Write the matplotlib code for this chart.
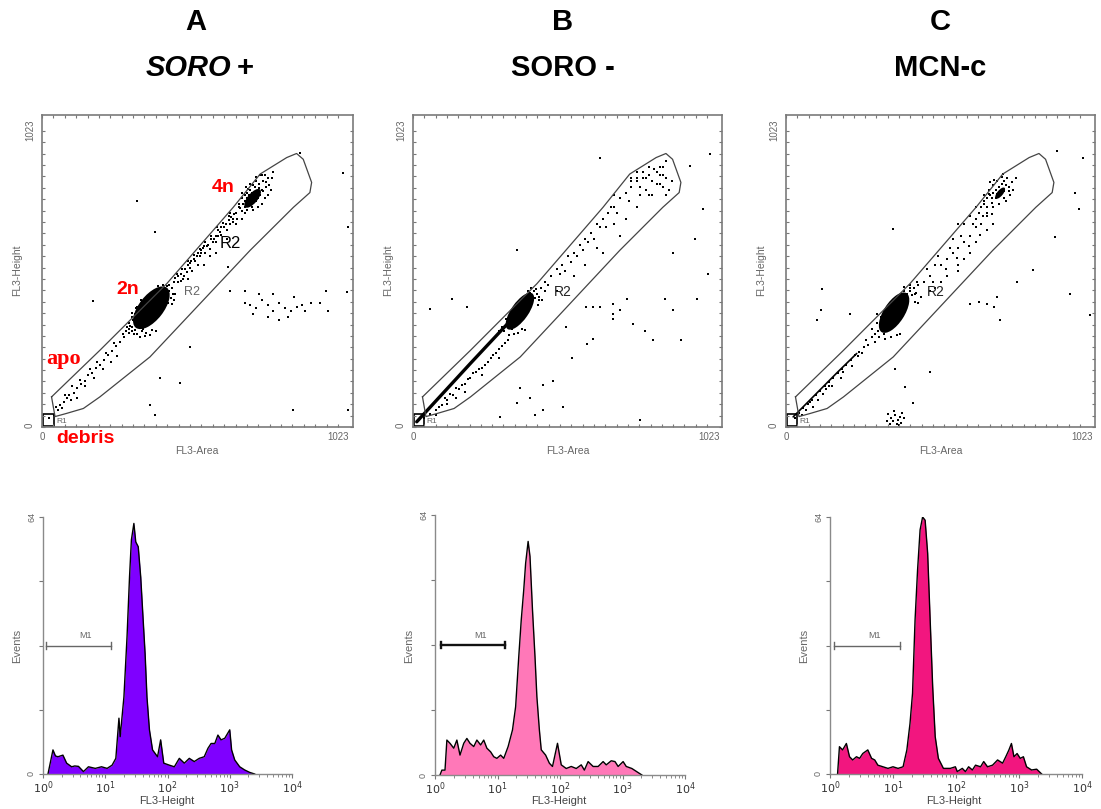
import numpy as np
import matplotlib
matplotlib.use("Agg")
import matplotlib.pyplot as plt
from matplotlib.patches import Ellipse, Rectangle

plt.rcParams['font.family'] = ['Liberation Sans', 'DejaVu Sans']

W, H = 1101, 809
fig = plt.figure(figsize=(W / 100, H / 100), dpi=100)


def rect(l, t, r, b):
    return [l / W, 1 - b / H, (r - l) / W, (b - t) / H]


def ftext(x, y, s, **kw):
    fig.text(x / W, 1 - y / H, s, **kw)


# ---------------- data ----------------
panel_letters = ['A', 'B', 'C']
panel_centers = [196, 563, 940]

# gate R2 outline (FL3-Area, FL3-Height)
gate_x = [33, 200, 431, 661, 754, 846, 880, 903, 932, 926, 869, 719, 546, 373, 200, 143, 85, 45, 33]
gate_y = [104, 265, 495, 759, 874, 931, 945, 925, 845, 810, 759, 610, 426, 242, 104, 64, 47, 36, 104]

# dense cores: (center x, center y, width, height, angle)
a_blobs = [(378, 412, 175, 85, 52), (360, 385, 90, 60, 40), (728, 790, 80, 34, 50)]
b_blobs = [(372, 400, 150, 60, 55), (355, 380, 70, 40, 45)]
c_blobs = [(376, 395, 160, 72, 57), (360, 375, 80, 50, 45), (745, 808, 48, 20, 50)]

# dense diagonal streaks (x list, y list, width)
a_lines = []
b_lines = [([13, 100, 200, 330], [18, 112, 220, 358], 2.4)]
c_lines = [([25, 100, 180, 246], [35, 110, 190, 254], 1.2)]

a_dots = [
    (25, 30), (40, 42), (55, 60), (62, 75), (75, 85), (88, 100), (95, 110), (110, 118), (120, 135), (135, 150),
    (148, 160), (160, 178), (172, 185), (185, 205), (200, 215), (215, 232), (228, 250), (242, 262), (255, 280),
    (270, 292), (285, 312), (300, 325), (48, 70), (80, 110), (105, 140), (130, 162), (165, 200), (190, 225),
    (220, 255), (250, 290), (280, 320), (310, 345), (70, 65), (100, 95), (150, 140), (210, 200), (260, 245),
    (120, 100), (180, 170), (240, 225),
    (300, 340), (310, 330), (320, 335), (330, 350), (345, 330), (350, 340), (340, 380), (300, 360), (315, 370),
    (420, 470), (430, 455), (410, 480), (440, 470), (400, 460), (435, 430), (425, 420), (395, 330), (380, 335),
    (360, 325), (330, 320), (445, 445), (415, 440), (320, 390), (310, 380), (335, 400), (290, 330), (355, 315),
    (450, 480), (460, 460), (325, 410), (345, 425), (305, 350), (295, 345), (318, 322), (338, 312), (372, 318),
    (402, 488), (418, 492), (432, 486), (452, 458), (456, 440), (448, 425), (330, 415), (312, 395), (342, 438),
    (440, 490), (455, 500), (470, 520), (480, 530), (495, 545), (505, 560), (515, 575), (525, 580), (540, 600),
    (550, 610), (560, 625), (575, 630), (585, 650), (600, 660), (610, 680), (620, 690), (635, 700), (645, 715),
    (655, 725), (665, 735), (470, 500), (490, 520), (510, 550), (530, 575), (550, 600), (570, 625), (590, 640),
    (610, 660), (630, 690), (650, 700), (460, 515), (480, 505), (500, 535), (520, 540), (545, 590), (565, 600),
    (580, 615), (600, 640), (620, 665), (640, 680), (505, 510), (540, 560), (580, 590), (640, 650), (670, 700),
    (690, 720), (600, 600), (560, 560), (700, 760), (680, 760), (690, 745), (465, 530), (485, 545), (505, 575),
    (525, 595), (545, 615), (565, 640), (585, 660), (605, 690), (625, 705), (645, 730), (488, 512), (512, 565),
    (535, 590), (557, 618), (595, 650), (615, 675), (660, 710), (675, 720),
    (680, 770), (690, 790), (700, 800), (705, 770), (710, 810), (715, 780), (720, 820), (725, 760), (730, 800),
    (735, 830), (740, 780), (745, 810), (750, 840), (755, 800), (760, 820), (765, 850), (770, 790), (700, 740),
    (710, 750), (730, 750), (745, 760), (760, 770), (775, 830), (780, 860), (690, 810), (705, 830), (720, 840),
    (740, 850), (760, 870), (670, 740), (660, 720), (780, 800), (790, 820), (800, 880), (650, 740), (795, 860),
    (770, 870), (755, 870), (715, 800), (725, 810), (735, 790), (745, 790), (710, 790), (700, 780), (720, 770),
    (685, 755), (695, 770), (765, 815), (775, 845), (785, 835), (750, 825), (730, 835), (740, 865), (712, 822),
    (700, 430), (720, 420), (740, 410), (760, 440), (780, 420), (800, 400), (820, 430), (840, 410), (860, 400),
    (880, 415), (900, 420), (930, 430), (960, 430), (780, 380), (820, 370), (850, 380), (750, 460), (800, 460),
    (870, 450), (910, 400), (980, 470), (990, 400), (700, 470), (650, 470), (730, 390),
    (327, 782), (391, 673), (177, 437), (1042, 879), (1059, 690), (1053, 466), (512, 277), (373, 76), (391, 41),
    (408, 169), (477, 151), (868, 59), (1059, 59), (892, 948), (644, 552),
]

b_dots = [
    (40, 30), (60, 45), (80, 60), (100, 75), (120, 95), (140, 110), (160, 130), (180, 150), (200, 170), (220, 190),
    (240, 205), (260, 225), (280, 250), (300, 270), (320, 290), (70, 80), (110, 100), (150, 135), (190, 165),
    (230, 200), (270, 240), (310, 280), (90, 70), (130, 115), (170, 145), (210, 185), (250, 215), (290, 255),
    (330, 300), (350, 320), (120, 80), (180, 120), (240, 180), (300, 240), (80, 40), (150, 100),
    (300, 330), (320, 345), (330, 360), (420, 470), (430, 460), (440, 450), (410, 480), (400, 470), (450, 440),
    (435, 420), (350, 320), (390, 335), (345, 340), (310, 345), (425, 445), (445, 480), (460, 470), (315, 330),
    (335, 318), (408, 462), (428, 478), (438, 438), (325, 372), (365, 325), (380, 340),
    (460, 500), (480, 520), (500, 545), (520, 560), (540, 590), (560, 600), (580, 630), (600, 650), (620, 670),
    (640, 700), (660, 720), (680, 740), (700, 760), (720, 790), (740, 810), (760, 830), (780, 850), (800, 860),
    (470, 490), (510, 530), (550, 570), (590, 610), (630, 650), (670, 690), (710, 740), (750, 780), (790, 800),
    (830, 850), (850, 880), (820, 900), (780, 880), (760, 860), (700, 800), (690, 760), (650, 690), (610, 640),
    (570, 590), (530, 540), (740, 720), (780, 760), (820, 800), (860, 840), (700, 700), (640, 620), (500, 470),
    (560, 520), (600, 560), (660, 600), (720, 660), (860, 900), (870, 870), (880, 800),
    (760, 850), (780, 860), (800, 880), (820, 870), (840, 890), (860, 870), (880, 860), (850, 840), (870, 830),
    (890, 820), (900, 850), (830, 800), (810, 820), (790, 830), (870, 900), (880, 920), (810, 860), (780, 880),
    (361, 610), (651, 931), (135, 443), (59, 409), (187, 414), (627, 305), (604, 288), (552, 237), (453, 145),
    (361, 82), (424, 41), (302, 36), (789, 24), (1033, 943), (964, 902), (1010, 753), (981, 650), (1027, 530),
    (987, 443), (906, 403), (878, 443), (743, 443), (720, 403), (697, 425), (906, 600), (602, 414), (625, 414),
    (697, 391), (650, 414), (766, 356), (806, 333), (534, 346), (697, 374), (836, 299), (934, 299), (453, 59),
    (372, 136), (488, 160), (407, 99), (523, 70),
]

c_dots = [
    (30, 30), (45, 50), (60, 65), (75, 80), (90, 95), (105, 110), (120, 125), (135, 140), (150, 155), (165, 170),
    (180, 185), (195, 200), (210, 215), (225, 230), (240, 250), (255, 260), (270, 275), (70, 60), (110, 95),
    (150, 140), (200, 190), (250, 245), (280, 300), (300, 310), (320, 330), (190, 170), (130, 115), (95, 70),
    (160, 140), (230, 210), (285, 285), (265, 255), (310, 295), (55, 40), (85, 85), (140, 130),
    (320, 330), (330, 345), (340, 320), (350, 335), (420, 460), (430, 470), (440, 455), (410, 470), (300, 340),
    (310, 320), (425, 440), (445, 480), (460, 490), (395, 320), (330, 380), (340, 400), (315, 360), (325, 310),
    (345, 305), (412, 482), (432, 490), (452, 462), (448, 432), (318, 392), (365, 312), (385, 318),
    (450, 460), (480, 500), (500, 520), (520, 480), (540, 560), (560, 580), (580, 600), (600, 620), (620, 640),
    (640, 660), (660, 690), (560, 520), (600, 560), (640, 600), (700, 740), (680, 700), (540, 500), (500, 470),
    (470, 450), (620, 580), (660, 640), (720, 700), (580, 650), (520, 560), (600, 700), (640, 730), (690, 770),
    (660, 760), (430, 480), (455, 500), (490, 545), (530, 590), (570, 620), (610, 660), (650, 700), (685, 730),
    (460, 430), (510, 500), (555, 545), (595, 585), (635, 625), (675, 665), (715, 735), (620, 700), (700, 680),
    (600, 540), (660, 720),
    (690, 780), (700, 790), (710, 800), (720, 810), (730, 820), (740, 830), (750, 840), (760, 850), (770, 860),
    (700, 760), (715, 775), (730, 790), (745, 800), (760, 815), (775, 830), (785, 845), (690, 800), (705, 820),
    (720, 835), (735, 850), (750, 865), (680, 760), (720, 760), (760, 790), (780, 800), (800, 860), (670, 740),
    (700, 730), (740, 770), (765, 780), (790, 820), (710, 845), (725, 855), (755, 875), (735, 805), (750, 815),
    (715, 790), (705, 805), (765, 835), (775, 815),
    (373, 684), (107, 368), (122, 403), (124, 478), (223, 391), (501, 190), (414, 139), (379, 202), (443, 82),
    (355, 45), (365, 30), (372, 20), (380, 40), (388, 25), (395, 35), (400, 15), (410, 30), (362, 12), (385, 10),
    (405, 50), (375, 55), (392, 8), (352, 22),
    (745, 368), (722, 414), (699, 426), (734, 449), (670, 431), (641, 426), (803, 500), (936, 655), (988, 460),
    (1058, 386), (1005, 810), (1021, 753), (1034, 931), (942, 954), (860, 541),
]

# R2 labels: (x, y, size, colour)
a_r2 = [(650, 634, 12, 'black'), (520, 468, 9, '#666666')]
b_r2 = [(522, 468, 10, '#222222')]
c_r2 = [(521, 468, 10, '#222222')]

# histograms: log10(FL3-Height) positions and event counts
a_hist_lx = [0.08, 0.16, 0.20, 0.24, 0.32, 0.38, 0.46, 0.51, 0.57, 0.65, 0.73, 0.84, 0.94, 1.03, 1.11, 1.17, 1.22,
             1.24, 1.30, 1.35, 1.39, 1.42, 1.46, 1.49, 1.53, 1.57, 1.60, 1.64, 1.67, 1.71, 1.76, 1.84, 1.89, 1.94,
             2.03, 2.11, 2.19, 2.27, 2.35, 2.43, 2.51, 2.59, 2.65, 2.70, 2.76, 2.81, 2.86, 2.92, 3.00, 3.03, 3.08,
             3.16, 3.24, 3.32, 3.40]
a_hist_y = [0, 6, 4.5, 4.3, 4.7, 2.7, 1.8, 2.0, 1.9, 0.6, 1.8, 1.4, 1.8, 1.4, 2.2, 3.9, 13.9, 9.3, 19.2, 34.2, 49.1,
            58.3, 62.4, 57.8, 56.6, 49, 40.8, 30, 19.2, 11, 6, 4.3, 8.5, 2.7, 2.2, 1.8, 3.9, 2.7, 3.9, 3.1, 3.9, 4.3,
            6.4, 7.6, 7.6, 9.7, 8.5, 8.9, 11, 6, 3.5, 1.8, 1.0, 0.4, 0]
b_hist_lx = [0.08, 0.11, 0.16, 0.19, 0.24, 0.30, 0.35, 0.40, 0.46, 0.51, 0.56, 0.62, 0.67, 0.73, 0.78, 0.83, 0.89,
             0.94, 0.99, 1.05, 1.10, 1.17, 1.24, 1.29, 1.34, 1.38, 1.42, 1.45, 1.49, 1.52, 1.56, 1.60, 1.63, 1.67,
             1.70, 1.77, 1.83, 1.88, 1.96, 2.02, 2.10, 2.18, 2.26, 2.34, 2.39, 2.45, 2.53, 2.61, 2.69, 2.74, 2.82,
             2.88, 2.93, 3.01, 3.06, 3.15, 3.23, 3.31]
b_hist_y = [0, 1.2, 1.2, 8.6, 7.8, 6.6, 8.6, 4.9, 7.8, 9.0, 7.8, 7.0, 8.6, 7.4, 8.6, 6.6, 5.7, 4.5, 4.1, 4.9, 4.1,
            7.0, 11.1, 16.8, 29.1, 38.2, 45.6, 52.1, 57.5, 53.8, 40.6, 29.1, 19.3, 11.1, 6.2, 4.9, 2.9, 2.1, 7.8,
            2.5, 1.6, 2.1, 1.6, 2.5, 1.2, 3.3, 2.1, 2.1, 3.3, 2.5, 3.5, 3.3, 2.1, 3.3, 2.1, 1.6, 0.8, 0]
c_hist_lx = [0.12, 0.15, 0.20, 0.26, 0.31, 0.36, 0.42, 0.47, 0.52, 0.60, 0.66, 0.71, 0.76, 0.84, 0.92, 1.00, 1.08,
             1.16, 1.22, 1.27, 1.31, 1.35, 1.39, 1.43, 1.47, 1.51, 1.55, 1.59, 1.63, 1.67, 1.72, 1.80, 1.91, 1.99,
             2.02, 2.10, 2.15, 2.20, 2.26, 2.31, 2.39, 2.44, 2.50, 2.58, 2.66, 2.74, 2.79, 2.84, 2.88, 2.92, 2.97,
             3.02, 3.07, 3.12, 3.20, 3.28, 3.36]
c_hist_y = [0, 6.8, 6, 7.6, 4.3, 3.5, 4.3, 3.9, 5.1, 6, 3.9, 3.5, 2.2, 1.8, 1.4, 1.8, 1.4, 1.8, 6, 12.6, 20.1, 38.3,
            50.8, 60.8, 64, 63.2, 55, 38.3, 21.7, 9.3, 3.9, 1.4, 1.4, 1.8, 0.6, 1.4, 0.6, 1.8, 1.0, 2.2, 1.8, 3.1,
            1.8, 2.2, 3.5, 2.7, 4.3, 6, 7.6, 4.3, 5.1, 3.9, 4.3, 1.8, 1.0, 1.2, 0]

hist_colors = ['#7F00FF', '#FF78B8', '#F2167F']
# M1 marker: (start, end, level)
m1_markers = [(1.13, 12.5, 32), (1.23, 13.4, 32), (1.16, 12.8, 32)]
m1_styles = [('#666666', 1.0), ('#111111', 1.7), ('#666666', 1.0)]

scatter_boxes = [(42, 115, 353, 427), (413, 115, 722, 427), (786, 115, 1095, 427)]
hist_boxes = [(43, 517, 292, 774), (435, 515, 685, 775), (830, 517, 1082, 774)]

GRAY = '#666666'

# ---------------- scatter panels ----------------
scatter_sets = [(a_dots, a_blobs, a_lines, a_r2), (b_dots, b_blobs, b_lines, b_r2), (c_dots, c_blobs, c_lines, c_r2)]
tick_pos = np.linspace(0, 1023, 27)
for i, (box, (dots, blobs, lines, r2s)) in enumerate(zip(scatter_boxes, scatter_sets)):
    ax = fig.add_axes(rect(*box))
    ax.set_xlim(0, 1075)
    ax.set_ylim(0, 1078)
    for (cx, cy, w, h, ang) in blobs:
        ax.add_patch(Ellipse((cx, cy), w, h, angle=ang, color='black', lw=0))
    for lx, ly, lw in lines:
        ax.plot(lx, ly, color='black', lw=lw, solid_capstyle='round')
    xs = [p[0] for p in dots]
    ys = [p[1] for p in dots]
    ax.scatter(xs, ys, s=2.5, marker='s', c='black', linewidths=0)
    ax.plot(gate_x, gate_y, color='#444444', lw=0.9)
    ax.add_patch(Rectangle((2, 5), 38, 40, fill=False, ec='black', lw=1.2))
    ax.text(48, 14, 'R1', fontsize=6, color=GRAY)
    for (tx, ty, fs, col) in r2s:
        ax.text(tx, ty, 'R2', fontsize=fs, color=col, ha='center', va='center')
    ax.set_xticks([])
    ax.set_yticks([])
    ax.set_xticks(tick_pos, minor=True)
    ax.set_yticks(tick_pos, minor=True)
    ax.tick_params(which='minor', direction='in', length=2.5, width=0.8, color='#777777',
                   top=True, right=True, bottom=True, left=True)
    for sp in ax.spines.values():
        sp.set_color('#7a7a7a')
        sp.set_linewidth(1.2)
    l, t, r, b = box
    ftext(l, b + 10, '0', fontsize=7, color=GRAY, ha='center', va='center')
    ftext(l + 296, b + 10, '1023', fontsize=7, color=GRAY, ha='center', va='center')
    ftext(l - 12, b - 2, '0', fontsize=7, color=GRAY, ha='center', va='center', rotation=90)
    ftext(l - 12, 130, '1023', fontsize=7, color=GRAY, ha='center', va='center', rotation=90)
    ftext(l - 25, 270, 'FL3-Height', fontsize=7.5, color=GRAY, ha='center', va='center', rotation=90)
    ftext(l + 155, 451, 'FL3-Area', fontsize=7.5, color=GRAY, ha='center', va='center')

# ---------------- histograms ----------------
hist_sets = [(a_hist_lx, a_hist_y), (b_hist_lx, b_hist_y), (c_hist_lx, c_hist_y)]
for i, (box, (lx, hy)) in enumerate(zip(hist_boxes, hist_sets)):
    ax = fig.add_axes(rect(*box))
    xv = [10 ** v for v in lx]
    ax.fill_between(xv, hy, 0, color=hist_colors[i], lw=0)
    ax.plot(xv, hy, color='black', lw=1.0)
    ax.set_xscale('log')
    ax.set_xlim(1, 1e4)
    ax.set_ylim(0, 64)
    x1, x2, lev = m1_markers[i]
    col, lw = m1_styles[i]
    ax.plot([x1, x2], [lev, lev], color=col, lw=lw)
    ax.plot([x1, x1], [lev - 0.8, lev + 0.8], color=col, lw=lw)
    ax.plot([x2, x2], [lev - 0.8, lev + 0.8], color=col, lw=lw)
    ax.text((x1 * x2) ** 0.5 * 1.3, lev + 1.3, 'M1', fontsize=6.5, color=GRAY, ha='center', va='bottom')
    ax.set_xticks([1, 10, 100, 1000, 10000], ['$10^0$', '$10^1$', '$10^2$', '$10^3$', '$10^4$'])
    ax.set_yticks([0, 16, 32, 48, 64], ['0', '', '', '', '64'])
    ax.tick_params(axis='x', which='major', direction='out', length=3, width=0.8, color='#777777',
                   labelsize=8, labelcolor='#333333', pad=1)
    ax.tick_params(axis='x', which='minor', direction='out', length=1.8, width=0.6, color='#777777')
    ax.tick_params(axis='y', direction='out', length=3, width=0.8, color='#777777',
                   labelsize=6.5, labelcolor=GRAY, labelrotation=90, pad=2)
    for lbl in ax.get_yticklabels():
        lbl.set_va('center')
    ax.spines['top'].set_visible(False)
    ax.spines['right'].set_visible(False)
    for s in ('left', 'bottom'):
        ax.spines[s].set_color('#8a8a8a')
        ax.spines[s].set_linewidth(1.0)
    l, t, r, b = box
    ftext(l - 26, 646, 'Events', fontsize=8, color=GRAY, ha='center', va='center', rotation=90)
    ftext(l + 124, 801, 'FL3-Height', fontsize=8, color='#444444', ha='center', va='center')

# ---------------- titles ----------------
for letter, cx in zip(panel_letters, panel_centers):
    ftext(cx, 22, letter, fontsize=21, fontweight='bold', ha='center', va='center')
ftext(231, 68, 'SORO', fontsize=21, fontweight='bold', style='italic', ha='right', va='center')
ftext(237, 68, '+', fontsize=21, fontweight='bold', ha='left', va='center')
ftext(563, 68, 'SORO -', fontsize=21, fontweight='bold', ha='center', va='center')
ftext(940, 68, 'MCN-c', fontsize=21, fontweight='bold', ha='center', va='center')

# ---------------- red annotations ----------------
RED = '#FF0000'
ftext(223, 188, '4n', fontsize=14, fontweight='bold', color=RED, ha='center', va='center')
ftext(128, 290, '2n', fontsize=14, fontweight='bold', color=RED, ha='center', va='center')
ftext(64, 359, 'apo', fontsize=16, fontweight='bold', color=RED, ha='center', va='center',
      family=['Liberation Serif', 'DejaVu Serif'])
ftext(85, 438, 'debris', fontsize=14, fontweight='bold', color=RED, ha='center', va='center')

fig.savefig('out.png', dpi=100)
